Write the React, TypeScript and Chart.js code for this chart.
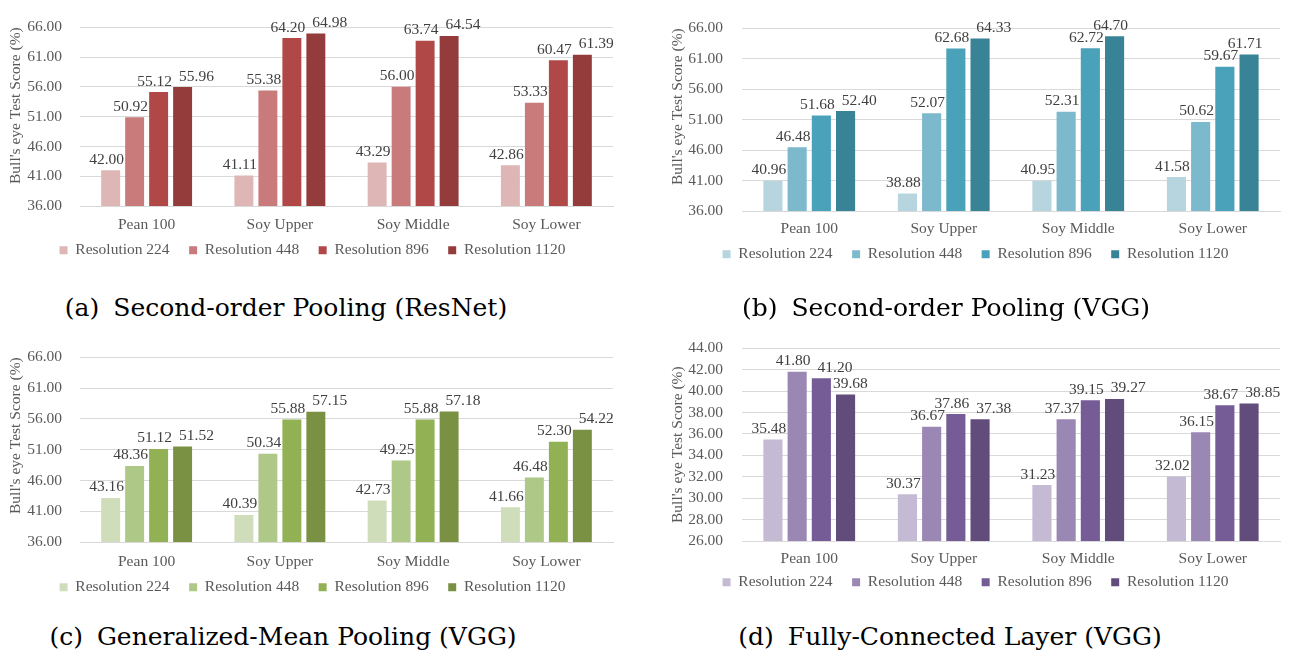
import React, { useEffect, useRef } from 'react';
import { Chart, registerables } from 'chart.js';

Chart.register(...registerables);

// ---------- data ----------
const categories = ['Pean 100', 'Soy Upper', 'Soy Middle', 'Soy Lower'];
const seriesNames = ['Resolution 224', 'Resolution 448', 'Resolution 896', 'Resolution 1120'];

// (a) Second-order Pooling (ResNet)
const sopResNet224 = [42.0, 41.11, 43.29, 42.86];
const sopResNet448 = [50.92, 55.38, 56.0, 53.33];
const sopResNet896 = [55.12, 64.2, 63.74, 60.47];
const sopResNet1120 = [55.96, 64.98, 64.54, 61.39];

// (b) Second-order Pooling (VGG)
const sopVgg224 = [40.96, 38.88, 40.95, 41.58];
const sopVgg448 = [46.48, 52.07, 52.31, 50.62];
const sopVgg896 = [51.68, 62.68, 62.72, 59.67];
const sopVgg1120 = [52.4, 64.33, 64.7, 61.71];

// (c) Generalized-Mean Pooling (VGG)
const gemVgg224 = [43.16, 40.39, 42.73, 41.66];
const gemVgg448 = [48.36, 50.34, 49.25, 46.48];
const gemVgg896 = [51.12, 55.88, 55.88, 52.3];
const gemVgg1120 = [51.52, 57.15, 57.18, 54.22];

// (d) Fully-Connected Layer (VGG)
const fcVgg224 = [35.48, 30.37, 31.23, 32.02];
const fcVgg448 = [41.8, 36.67, 37.37, 36.15];
const fcVgg896 = [41.2, 37.86, 39.15, 38.67];
const fcVgg1120 = [39.68, 37.38, 39.27, 38.85];

// y-axis tick ranges: [min, max, step]
const yTicksPooling = [36, 66, 5];
const yTicksFc = [26, 44, 2];

const yAxisTitle = "Bull's eye Test Score (%)";

const captions = [
  ['(a)', 'Second-order Pooling (ResNet)'],
  ['(b)', 'Second-order Pooling (VGG)'],
  ['(c)', 'Generalized-Mean Pooling (VGG)'],
  ['(d)', 'Fully-Connected Layer (VGG)'],
];

// ---------- styles ----------
const reds = ['rgb(223,182,182)', 'rgb(201,123,123)', 'rgb(176,72,72)', 'rgb(148,59,59)'];
const teals = ['rgb(183,213,223)', 'rgb(125,185,204)', 'rgb(74,161,186)', 'rgb(57,131,150)'];
const greens = ['rgb(207,221,187)', 'rgb(174,200,135)', 'rgb(146,176,84)', 'rgb(122,145,67)'];
const purples = ['rgb(196,186,211)', 'rgb(155,135,180)', 'rgb(118,92,150)', 'rgb(98,76,124)'];

const SERIF = "'Liberation Serif', 'Times New Roman', serif";
const FS = 15.5;
const TEXT = '#595959';
const GRID = '#D9D9D9';

// data labels above bars, nudged sideways (like Excel) when they would collide
const barLabelPlugin = {
  id: 'barLabels',
  afterDatasetsDraw(chart: any) {
    const ctx = chart.ctx;
    ctx.save();
    ctx.font = `${FS}px ${SERIF}`;
    ctx.fillStyle = '#404040';
    ctx.textAlign = 'center';
    ctx.textBaseline = 'alphabetic';
    const n = chart.data.labels.length;
    for (let i = 0; i < n; i++) {
      let prev: any = null;
      let prevBar: any = null;
      chart.data.datasets.forEach((ds: any, j: number) => {
        const el = chart.getDatasetMeta(j).data[i];
        const text = Number(ds.data[i]).toFixed(2);
        const w = ctx.measureText(text).width;
        let x = el.x - 4;
        const y = el.y - 6.5;
        if (prev && Math.abs(prev.y - y) < 12 && x - w / 2 < prev.x + prev.w / 2 + 7) {
          x = prev.x + prev.w / 2 + 7 + w / 2;
        }
        if (prevBar && prevBar.y < y && x - w / 2 < prevBar.x + prevBar.width / 2 + 2) {
          x = prevBar.x + prevBar.width / 2 + 2 + w / 2;
        }
        ctx.fillText(text, x, y);
        prev = { x, y, w };
        prevBar = { x: el.x, y: el.y, width: el.width };
      });
    }
    ctx.restore();
  },
};

type PanelProps = {
  series: number[][];
  colors: string[];
  yTicks: number[];
  box: { left: number; top: number; width: number; height: number };
  pad: { left: number; right: number; top: number };
  yAxisWidth: number;
  xAxisHeight: number;
  titlePad: number;
  titleAlign: 'start' | 'center' | 'end';
  yTickPad: number;
  xTickPad: number;
};

function Panel(p: PanelProps) {
  const ref = useRef<HTMLCanvasElement | null>(null);
  useEffect(() => {
    if (!ref.current) return;
    const chart = new Chart(ref.current, {
      type: 'bar',
      data: {
        labels: categories,
        datasets: p.series.map((d, k) => ({
          label: seriesNames[k],
          data: d,
          backgroundColor: p.colors[k],
          borderWidth: 0,
          barPercentage: 0.79,
          categoryPercentage: 0.72,
        })),
      },
      options: {
        responsive: false,
        animation: false,
        devicePixelRatio: 1,
        layout: { padding: { left: p.pad.left, right: p.pad.right, top: p.pad.top, bottom: 0 } },
        plugins: {
          tooltip: { enabled: false },
          legend: {
            position: 'bottom',
            align: 'center',
            labels: {
              boxWidth: 8,
              boxHeight: 8,
              padding: 19.5,
              color: TEXT,
              font: { family: SERIF, size: FS },
            },
          },
        },
        scales: {
          x: {
            grid: { display: false, drawTicks: false },
            border: { display: true, color: GRID, width: 1 },
            ticks: { color: TEXT, font: { family: SERIF, size: FS }, padding: -p.xTickPad, mirror: true, autoSkip: false },
            afterFit: (s: any) => {
              s.height = p.xAxisHeight;
            },
          },
          y: {
            min: p.yTicks[0],
            max: p.yTicks[1],
            grid: { color: GRID, lineWidth: 1, drawTicks: false },
            border: { display: false },
            ticks: {
              stepSize: p.yTicks[2],
              autoSkip: false,
              color: TEXT,
              font: { family: SERIF, size: FS },
              padding: p.yTickPad,
              callback: (v: any) => Number(v).toFixed(2),
            },
            title: {
              display: true,
              text: yAxisTitle,
              color: TEXT,
              align: p.titleAlign,
              font: { family: SERIF, size: FS },
              padding: { top: p.titlePad, bottom: 0 },
            },
            afterFit: (s: any) => {
              s.width = p.yAxisWidth;
            },
          },
        },
      },
      plugins: [barLabelPlugin],
    } as any);
    return () => chart.destroy();
  }, []);
  return (
    <canvas
      ref={ref}
      width={p.box.width}
      height={p.box.height}
      style={{
        position: 'absolute',
        left: p.box.left,
        top: p.box.top,
        width: p.box.width,
        height: p.box.height,
      }}
    />
  );
}

function Caption({ label, text, center, top }: { label: string; text: string; center: number; top: number }) {
  return (
    <div
      style={{
        position: 'absolute',
        left: center - 320,
        width: 640,
        top,
        textAlign: 'center',
        fontFamily: "'DejaVu Serif', serif",
        fontSize: 25,
        lineHeight: '25px',
        color: '#000',
        whiteSpace: 'nowrap',
      }}
    >
      <span style={{ marginRight: 14 }}>{label}</span>
      {text}
    </div>
  );
}

export default function App() {
  Chart.defaults.font.family = SERIF;
  return (
    <div style={{ position: 'absolute', left: 0, top: 0, width: 1289, height: 655, background: '#fff', overflow: 'hidden' }}>
      <Panel
        series={[sopResNet224, sopResNet448, sopResNet896, sopResNet1120]}
        colors={reds}
        yTicks={yTicksPooling}
        box={{ left: 0, top: 0, width: 625, height: 268 }}
        pad={{ left: 12, right: 12, top: 17 }}
        yAxisWidth={68}
        xAxisHeight={17}
        titlePad={-5}
        titleAlign="end"
        yTickPad={18}
        xTickPad={28}
      />
      <Panel
        series={[sopVgg224, sopVgg448, sopVgg896, sopVgg1120]}
        colors={teals}
        yTicks={yTicksPooling}
        box={{ left: 659, top: 0, width: 630, height: 272 }}
        pad={{ left: 12, right: 9, top: 21 }}
        yAxisWidth={71}
        xAxisHeight={16}
        titlePad={-2}
        titleAlign="end"
        yTickPad={19}
        xTickPad={27}
      />
      <Panel
        series={[gemVgg224, gemVgg448, gemVgg896, gemVgg1120]}
        colors={greens}
        yTicks={yTicksPooling}
        box={{ left: 0, top: 330, width: 625, height: 275 }}
        pad={{ left: 12, right: 12, top: 23 }}
        yAxisWidth={68}
        xAxisHeight={18}
        titlePad={-5}
        titleAlign="end"
        yTickPad={18}
        xTickPad={29}
      />
      <Panel
        series={[fcVgg224, fcVgg448, fcVgg896, fcVgg1120]}
        colors={purples}
        yTicks={yTicksFc}
        box={{ left: 659, top: 320, width: 630, height: 280 }}
        pad={{ left: 12, right: 9, top: 17 }}
        yAxisWidth={71}
        xAxisHeight={14}
        titlePad={-2}
        titleAlign="center"
        yTickPad={19}
        xTickPad={27}
      />
      <Caption label={captions[0][0]} text={captions[0][1]} center={286} top={295} />
      <Caption label={captions[1][0]} text={captions[1][1]} center={946} top={295} />
      <Caption label={captions[2][0]} text={captions[2][1]} center={283} top={624} />
      <Caption label={captions[3][0]} text={captions[3][1]} center={950} top={624} />
    </div>
  );
}
